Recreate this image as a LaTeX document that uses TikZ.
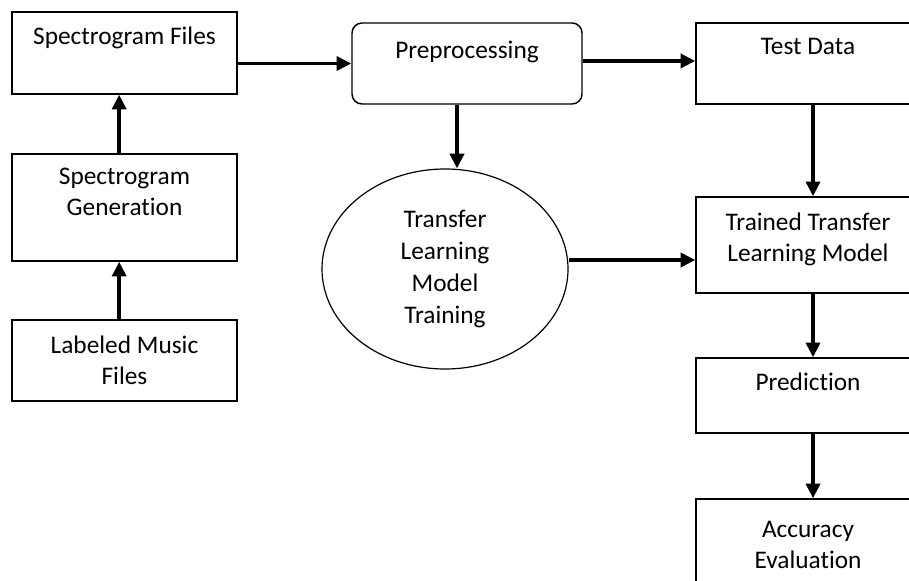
\documentclass[tikz,border=0pt]{standalone}
\usepackage{fontspec}
\setmainfont{Carlito}[Ligatures=NoCommon]
\usetikzlibrary{shapes.geometric}
\usetikzlibrary{arrows.meta}

% invisible depth below the last line, pushes the text up in its box
\newcommand{\lift}[1]{\rule[-#1]{0pt}{#1}}

\begin{document}
\begin{tikzpicture}[x=0.75pt,y=-0.75pt,node distance=115pt,
	box node/.style={rectangle, draw, line width=1.1pt, minimum width=168.75pt, inner sep=0pt, align=center, font=\fontsize{19}{23.2}\selectfont},
	round node/.style={box node, rounded corners=7.5pt, minimum width=172.5pt},
	oval node/.style={ellipse, draw, line width=0.9pt, minimum width=184.5pt, minimum height=150pt, inner sep=0pt, align=center, font=\fontsize{19}{23.8}\selectfont},
	flow/.style={-{Triangle[length=11pt,width=10.5pt]}, line width=2.7pt}]
			\useasboundingbox (0,0) rectangle (909,581);
			\clip (0,0) rectangle (909,581);
			
			% Left column
			\node[box node, minimum height=61.5pt] (files) at (124.5,53) {Spectrogram Files\lift{26pt}};
			\node[box node, minimum height=80.25pt, node distance=115.9pt, below of=files] (gen) {Spectrogram\\Generation\lift{23pt}};
			\node[box node, minimum height=60.75pt, node distance=114.75pt, below of=gen] (music) {Labeled Music\\Files};
			
			% Middle
			\node[round node, minimum height=60.75pt] (prep) at (467,63.5) {Preprocessing\lift{21pt}};
			\node[oval node] (train) at (445,269) {Transfer\\Learning\\Model\\Training};
			
			% Right column
			\node[box node, minimum width=168pt, minimum height=60.75pt] (test) at (808,63.5) {Test Data\lift{26pt}};
			\node[box node, minimum width=168pt, minimum height=72pt, node distance=136.1pt, below of=test] (trained) {Trained Transfer\\Learning Model\lift{12pt}};
			\node[box node, minimum width=168pt, minimum height=56.25pt, node distance=112.9pt, below of=trained] (pred) {Prediction\lift{20pt}};
			\node[box node, minimum width=168pt, minimum height=68.25pt, node distance=111.75pt, below of=pred] (acc) {Accuracy\\Evaluation};
			
			% Arrows
			\draw[flow] ([xshift=-4pt]music.north) -- ([xshift=-4pt]gen.south);
			\draw[flow] ([xshift=-4pt]gen.north) -- ([xshift=-4pt]files.south);
			\draw[flow] (files.east |- prep.west) -- (prep.west);
			\draw[flow] ([yshift=1.9pt]prep.east) -- ([yshift=1.9pt]test.west);
			\draw[flow] ([xshift=-7.5pt]prep.south) -- ([xshift=-7.5pt]prep.south |- train.north);
			\draw[flow] ([xshift=3.75pt]test.south) -- ([xshift=3.75pt]trained.north);
			\draw[flow] ([yshift=6.75pt]train.east) -- ([yshift=6.75pt]train.east -| trained.west);
			\draw[flow] ([xshift=3.75pt]trained.south) -- ([xshift=3.75pt]pred.north);
			\draw[flow] ([xshift=3.75pt]pred.south) -- ([xshift=3.75pt]acc.north);
			
\end{tikzpicture}
\end{document}
